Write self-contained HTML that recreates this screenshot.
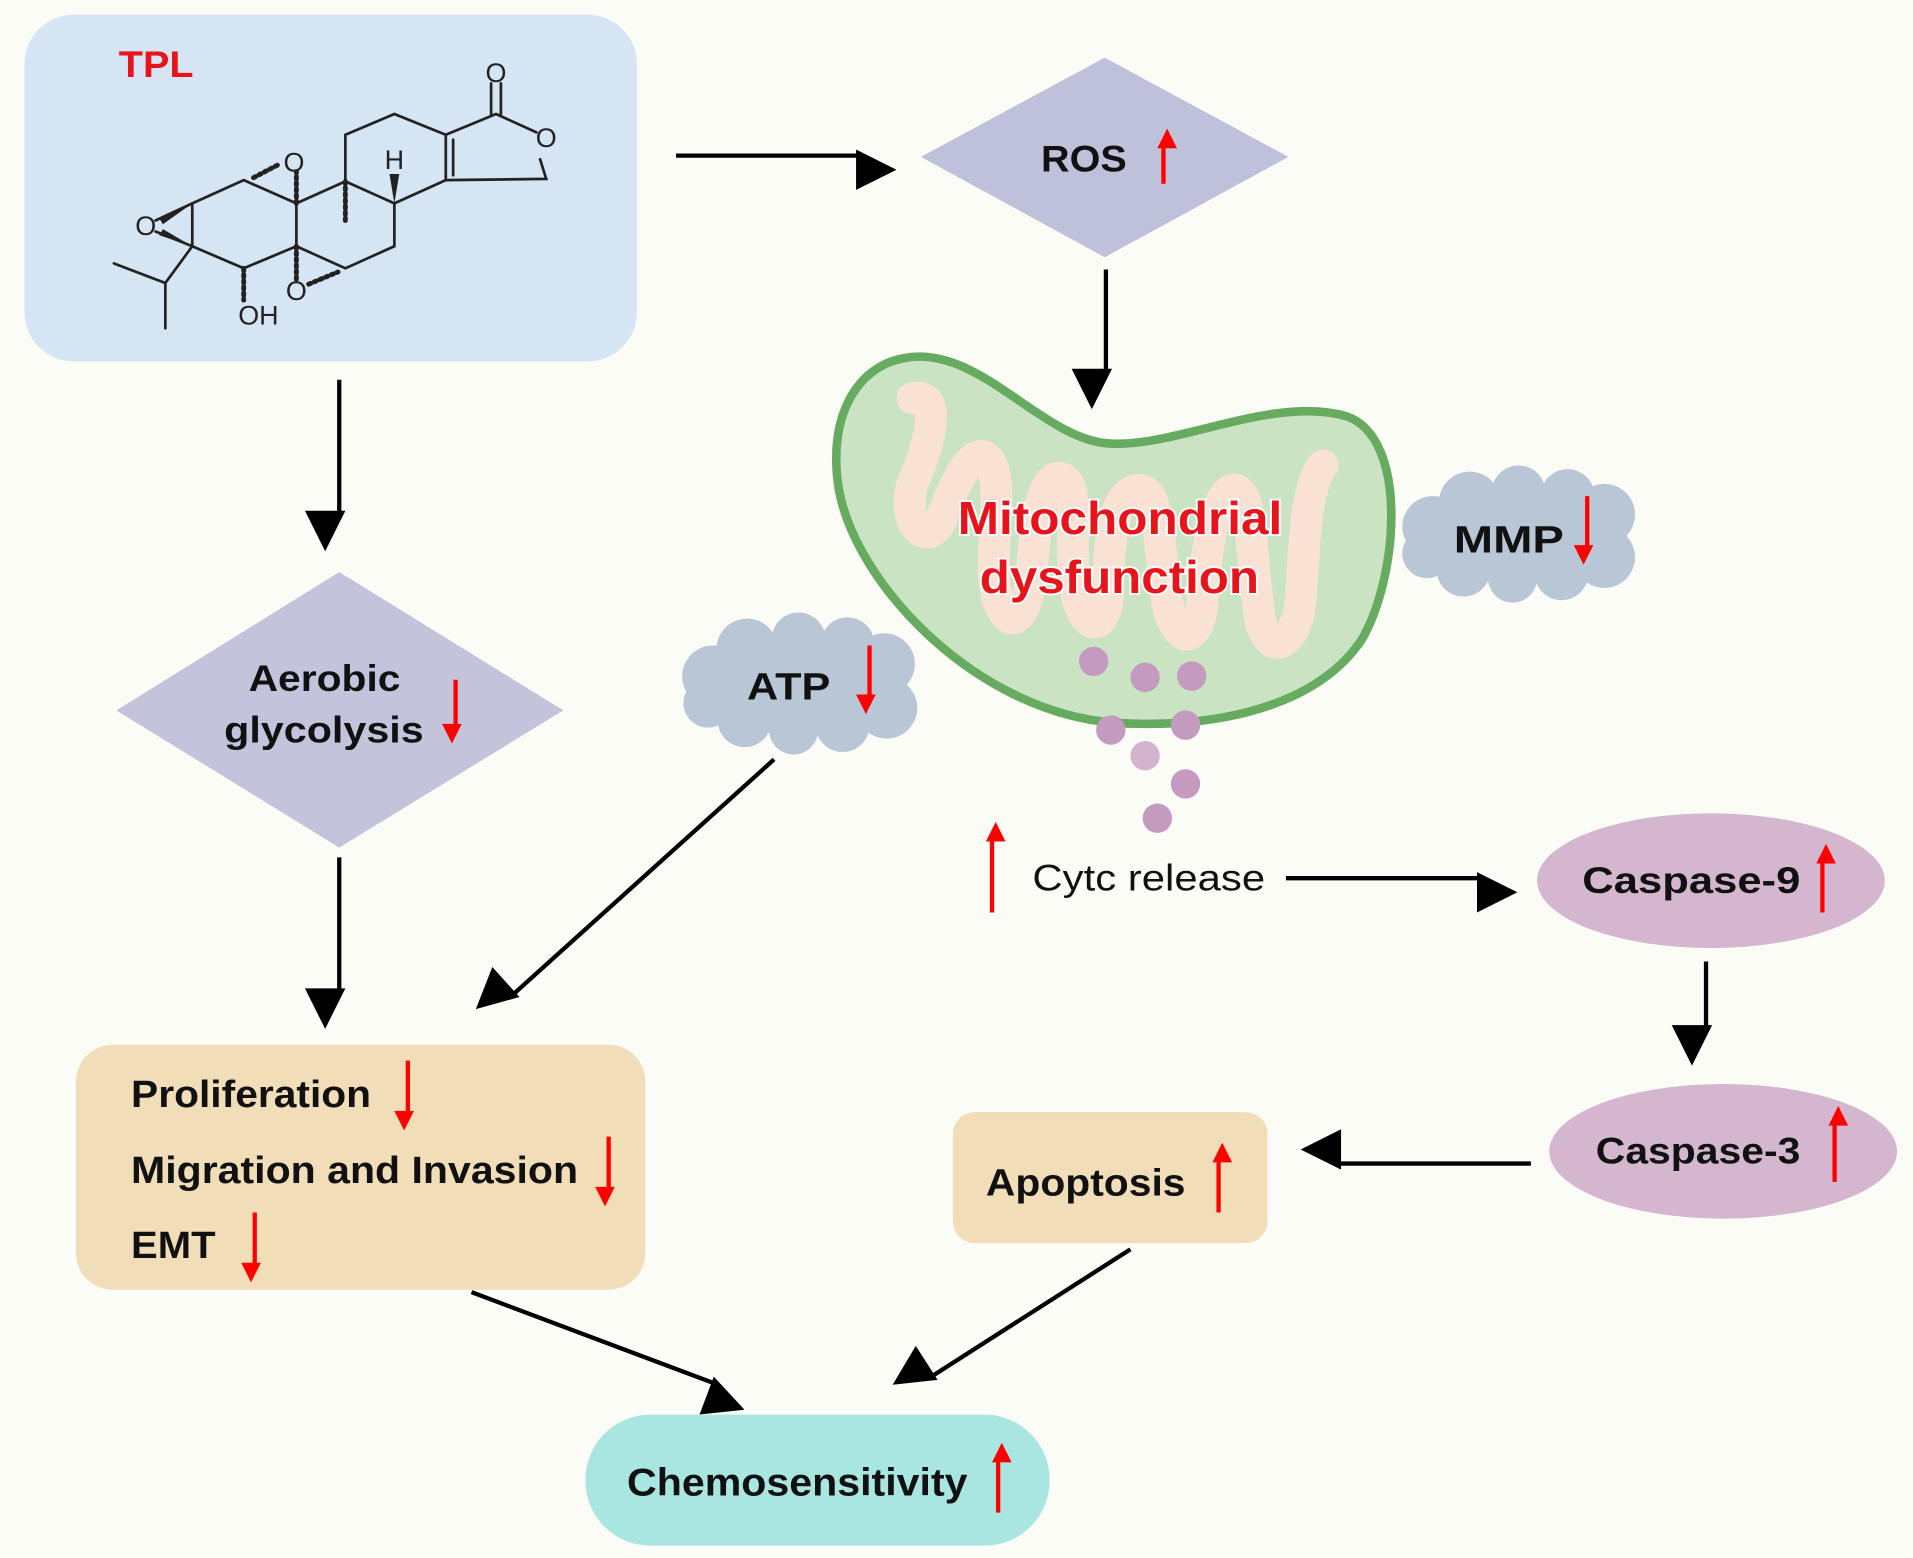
<!DOCTYPE html>
<html><head><meta charset="utf-8"><style>
html,body{margin:0;padding:0;background:#fcfcf7;}
svg{display:block;}
text{font-family:"Liberation Sans",Arial,sans-serif;}
.b{font-weight:bold;fill:#111;}
</style></head><body>
<svg width="1913" height="1558" viewBox="0 0 1562 1272" xmlns="http://www.w3.org/2000/svg">
<defs>
<marker id="ah" markerWidth="10" markerHeight="10" refX="1" refY="5" orient="auto" markerUnits="userSpaceOnUse" viewBox="0 0 10 10" style="overflow:visible">
<path d="M0,0 L10,5 L0,10 Z" fill="#000" transform="scale(3.3)" />
</marker>
<marker id="rh" markerWidth="10" markerHeight="10" refX="1" refY="5" orient="auto" markerUnits="userSpaceOnUse" viewBox="0 0 10 10" style="overflow:visible">
<path d="M0,0 L10,5 L0,10 Z" fill="#f00" transform="scale(1.6)" />
</marker>
</defs>
<rect width="1562" height="1272" fill="#fcfcf7"/>

<rect x="20" y="12" width="500" height="283" rx="40" fill="#d6e5f4"/>
<text x="97" y="63" font-size="30" font-weight="bold" fill="#e8141b" textLength="61" lengthAdjust="spacingAndGlyphs">TPL</text>
<g stroke="#222" stroke-width="2.2" fill="none" stroke-linecap="round">
<path d="M242,166 L199,147 L157,166 L157,201 L199,219 L242,201 Z"/>
<path d="M242,166 L282,148 L322,166 L322,201 L282,219 L242,201"/>
<path d="M282,148 L282,110 L322,93 L364,110 L364,147 L322,166"/>
<path d="M364,110 L405,93 L438,108 M441,130 L446,146 L364,147"/>
<path d="M370,114 L370,143"/>
<path d="M401,93 L401,68 M409,93 L409,68"/>
<path d="M157,166 L127,180 M157,201 L127,189"/>
<path d="M157,201 L135,231 L93,215 M135,231 L135,268"/>
<path d="M282,148 L282,182" stroke-dasharray="2 3" stroke-width="4"/>
<path d="M242,166 L242,140" stroke-dasharray="2 3" stroke-width="4"/>
<path d="M207,145 L228,134" stroke-dasharray="2 3" stroke-width="4"/>
<path d="M199,219 L199,245" stroke-dasharray="2 3" stroke-width="4"/>
<path d="M242,201 L242,228" stroke-dasharray="2 3" stroke-width="4"/>
<path d="M252,232 L276,222" stroke-dasharray="2 3" stroke-width="4"/>
</g>
<path d="M322,166 L318,142 L326,142 Z" fill="#222"/>
<path d="M157,166 L130,178 L133,183 Z M157,201 L133,187 L130,192 Z" fill="#222"/>
<g font-size="22" fill="#222">
<text x="405" y="67" text-anchor="middle">O</text>
<text x="446" y="120" text-anchor="middle">O</text>
<text x="240" y="140" text-anchor="middle">O</text>
<text x="119" y="192" text-anchor="middle">O</text>
<text x="322" y="138" text-anchor="middle">H</text>
<text x="242" y="245" text-anchor="middle">O</text>
<text x="211" y="265" text-anchor="middle">OH</text>
</g>

<g stroke="#000" stroke-width="3.5" fill="none">
<line x1="552" y1="127" x2="700" y2="127" marker-end="url(#ah)"/>
<line x1="903" y1="220" x2="903" y2="302" marker-end="url(#ah)"/>
<line x1="277" y1="310" x2="277" y2="418" marker-end="url(#ah)"/>
<line x1="277" y1="700" x2="277" y2="808" marker-end="url(#ah)"/>
<line x1="632" y1="620" x2="420" y2="811" marker-end="url(#ah)"/>
<line x1="1050" y1="717" x2="1207" y2="717" marker-end="url(#ah)"/>
<line x1="1393" y1="785" x2="1393" y2="838" marker-end="url(#ah)"/>
<line x1="1250" y1="950" x2="1094" y2="950" marker-end="url(#ah)"/>
<line x1="385" y1="1055" x2="582" y2="1129" marker-end="url(#ah)"/>
<line x1="923" y1="1020" x2="762" y2="1123" marker-end="url(#ah)"/>
</g>

<polygon points="752,128 902,47 1052,128 902,210" fill="#bfc0d9"/>
<text x="850" y="140" font-size="30" class="b" textLength="70" lengthAdjust="spacingAndGlyphs">ROS</text>
<line x1="950" y1="150" x2="950" y2="120" stroke="#f00" stroke-width="3.5" marker-end="url(#rh)"/>

<path d="M740,292 C800,282 850,358 905,362 C960,366 1040,322 1100,340 C1150,358 1142,470 1112,522 C1072,582 980,595 910,590 C800,582 700,480 685,400 C675,340 700,298 740,292 Z" fill="#c9e3c3" stroke="#66ab5f" stroke-width="7"/>
<path d="M745,325 C770,320 760,360 745,395 C735,430 760,450 770,420 C785,380 800,360 810,380 C820,410 805,460 815,490 C825,520 840,500 842,470 C845,430 850,390 865,390 C885,392 870,450 880,490 C890,520 905,510 905,480 C905,440 910,400 930,400 C950,400 945,460 955,500 C965,530 980,520 982,490 C985,450 990,410 1005,400 C1025,395 1020,460 1030,510 C1040,540 1060,520 1062,490 C1065,450 1065,400 1080,380" fill="none" stroke="#f9e2d3" stroke-width="26" stroke-linecap="round" stroke-linejoin="round"/>
<g font-size="38" font-weight="bold" fill="#e8141b" stroke="#fff" stroke-width="3" paint-order="stroke">
<text x="782" y="436" textLength="265" lengthAdjust="spacingAndGlyphs">Mitochondrial</text>
<text x="800" y="484" textLength="228" lengthAdjust="spacingAndGlyphs">dysfunction</text>
</g>
<g fill="#c49bbf">
<circle cx="893" cy="540" r="12"/><circle cx="935" cy="553" r="12"/><circle cx="973" cy="552" r="12"/>
<circle cx="907" cy="596" r="12"/><circle cx="968" cy="592" r="12"/><circle cx="935" cy="617" r="12" fill="#d2b4cd"/>
<circle cx="968" cy="640" r="12"/><circle cx="945" cy="668" r="12"/>
</g>

<g fill="#b9c6d6">
<ellipse cx="1240" cy="437" rx="85" ry="40"/>
<circle cx="1170" cy="430" r="25"/><circle cx="1200" cy="410" r="25"/><circle cx="1240" cy="402" r="22"/><circle cx="1280" cy="405" r="22"/><circle cx="1310" cy="420" r="25"/>
<circle cx="1310" cy="455" r="25"/><circle cx="1275" cy="468" r="22"/><circle cx="1235" cy="472" r="20"/><circle cx="1195" cy="465" r="22"/><circle cx="1165" cy="452" r="20"/>
</g>
<text x="1187" y="451" font-size="31" class="b" textLength="90" lengthAdjust="spacingAndGlyphs">MMP</text>
<line x1="1296" y1="405" x2="1296" y2="446" stroke="#f00" stroke-width="3.5" marker-end="url(#rh)"/>

<g fill="#b9c6d6">
<ellipse cx="652" cy="560" rx="85" ry="40"/>
<circle cx="582" cy="552" r="25"/><circle cx="610" cy="530" r="25"/><circle cx="652" cy="522" r="22"/><circle cx="692" cy="526" r="22"/><circle cx="722" cy="542" r="25"/>
<circle cx="724" cy="578" r="25"/><circle cx="688" cy="592" r="22"/><circle cx="648" cy="596" r="20"/><circle cx="608" cy="588" r="22"/><circle cx="578" cy="574" r="20"/>
</g>
<text x="610" y="571" font-size="31" class="b" textLength="68" lengthAdjust="spacingAndGlyphs">ATP</text>
<line x1="710" y1="527" x2="710" y2="568" stroke="#f00" stroke-width="3.5" marker-end="url(#rh)"/>

<polygon points="95,580 277,467 460,580 277,692" fill="#c3c3dc"/>
<text x="203" y="564" font-size="30" class="b" textLength="124" lengthAdjust="spacingAndGlyphs">Aerobic</text>
<text x="183" y="606" font-size="30" class="b" textLength="163" lengthAdjust="spacingAndGlyphs">glycolysis</text>
<line x1="372" y1="555" x2="372" y2="592" stroke="#f00" stroke-width="3.5" marker-end="url(#rh)"/>

<rect x="62" y="853" width="465" height="200" rx="30" fill="#f2ddb9"/>
<g font-size="31" class="b">
<text x="107" y="904" textLength="196" lengthAdjust="spacingAndGlyphs">Proliferation</text>
<text x="107" y="966" textLength="365" lengthAdjust="spacingAndGlyphs">Migration and Invasion</text>
<text x="107" y="1027" textLength="69" lengthAdjust="spacingAndGlyphs">EMT</text>
</g>
<g stroke="#f00" stroke-width="3.5">
<line x1="333" y1="866" x2="333" y2="908" marker-end="url(#rh)"/>
<line x1="497" y1="928" x2="497" y2="970" marker-end="url(#rh)"/>
<line x1="208" y1="990" x2="208" y2="1032" marker-end="url(#rh)"/>
</g>

<line x1="810" y1="745" x2="810" y2="686" stroke="#f00" stroke-width="3.5" marker-end="url(#rh)"/>
<text x="843" y="727" font-size="30" fill="#111" textLength="190" lengthAdjust="spacingAndGlyphs">Cytc release</text>

<ellipse cx="1397" cy="719" rx="142" ry="55" fill="#d4b6ce"/>
<text x="1292" y="729" font-size="30" class="b" textLength="178" lengthAdjust="spacingAndGlyphs">Caspase-9</text>
<line x1="1488" y1="745" x2="1488" y2="704" stroke="#f00" stroke-width="3.5" marker-end="url(#rh)"/>

<ellipse cx="1407" cy="940" rx="142" ry="55" fill="#d4b6ce"/>
<text x="1303" y="950" font-size="30" class="b" textLength="167" lengthAdjust="spacingAndGlyphs">Caspase-3</text>
<line x1="1498" y1="965" x2="1498" y2="918" stroke="#f00" stroke-width="3.5" marker-end="url(#rh)"/>

<rect x="778" y="908" width="257" height="107" rx="18" fill="#f2ddb9"/>
<text x="805" y="976" font-size="31" class="b" textLength="163" lengthAdjust="spacingAndGlyphs">Apoptosis</text>
<line x1="995" y1="990" x2="995" y2="948" stroke="#f00" stroke-width="3.5" marker-end="url(#rh)"/>

<rect x="478" y="1155" width="379" height="107" rx="53" fill="#a9e6e1"/>
<text x="512" y="1221" font-size="32" class="b" textLength="278" lengthAdjust="spacingAndGlyphs">Chemosensitivity</text>
<line x1="815" y1="1235" x2="815" y2="1193" stroke="#f00" stroke-width="3.5" marker-end="url(#rh)"/>
</svg>
</body></html>
